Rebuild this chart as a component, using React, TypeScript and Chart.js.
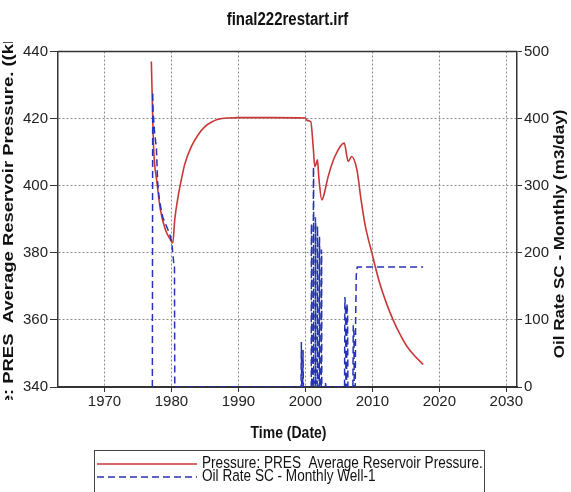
import React, { useEffect, useRef } from 'react';
import { Chart, registerables } from 'chart.js';

Chart.register(...registerables);

const TITLE = 'final222restart.irf';
const X_TITLE = 'Time (Date)';
const Y_LEFT_TITLE = 'Pressure: PRES  Average Reservoir Pressure. ((kPa)';
const Y_RIGHT_TITLE = 'Oil Rate SC - Monthly (m3/day)';
const PRESSURE_LABEL = 'Pressure: PRES  Average Reservoir Pressure.';
const OIL_LABEL = 'Oil Rate SC - Monthly Well-1';

const xTicks = [1970, 1980, 1990, 2000, 2010, 2020, 2030];
const leftTicks = [340, 360, 380, 400, 420, 440];
const rightTicks = [0, 100, 200, 300, 400, 500];

const pressureYears = [
  1977.0, 1977.2, 1977.35, 1977.85, 1978.35, 1979.1, 1979.85, 1980.2, 1980.5, 1981.0,
  1981.5, 1982.0, 1983.0, 1984.0, 1985.0, 1986.0, 1987.0, 1988.5, 1990.0, 1995.0,
  2000.0, 2000.3, 2000.8, 2001.2, 2001.4, 2001.6, 2001.8, 2002.0, 2002.45, 2002.7,
  2003.4, 2004.4, 2005.8, 2006.4, 2006.9, 2007.7, 2008.3, 2008.9, 2009.9, 2011.0,
  2012.1, 2013.1, 2014.1, 2015.1, 2016.3, 2017.6,
];
const pressureValues = [
  437, 420.6, 410.7, 400.8, 392.8, 386.9, 383.9, 382.9, 390.0, 396.8,
  402.0, 406.5, 411.8, 415.2, 417.6, 419.0, 419.8, 420.2, 420.3, 420.3,
  420.2, 419.4, 419.1, 410.7, 405.7, 406.5, 407.7, 402.7, 395.8, 396.8,
  402.7, 408.7, 412.7, 407.2, 408.7, 404.7, 396.0, 388.5, 380.2, 371.6,
  365.0, 360.0, 355.8, 352.3, 349.3, 346.7,
];

const oilYears = [
  1977.15, 1977.2, 1977.25, 1977.5, 1977.75, 1977.95, 1978.2, 1978.7, 1979.2, 1979.7,
  1980.05, 1980.2, 1980.35, 1980.45, 1980.5, 1999.35, 1999.4, 1999.45, 1999.6, 1999.65,
  1999.7, 2000.88, 2000.9, 2000.93, 2000.95, 2001.17, 2001.2, 2001.23, 2001.25, 2001.47,
  2001.5, 2001.53, 2001.55, 2001.77, 2001.8, 2001.83, 2001.85, 2002.07, 2002.1, 2002.13,
  2002.15, 2002.37, 2002.4, 2002.43, 2002.45, 2003.0, 2003.02, 2003.05, 2005.85, 2005.9,
  2006.0, 2006.05, 2006.15, 2006.2, 2006.3, 2006.35, 2007.1, 2007.15, 2007.25, 2007.3,
  2007.45, 2007.5, 2007.6, 2007.75, 2017.58,
];
const oilValues = [
  0, 440, 412, 377, 357, 303, 278, 253, 241, 229,
  216, 199, 184, 184, 0, 0, 67, 0, 0, 55,
  0, 0, 243, 235, 0, 0, 328, 320, 0, 0,
  253, 245, 0, 0, 240, 224, 0, 0, 224, 214,
  0, 0, 205, 200, 0, 0, 8, 0, 0, 134,
  120, 0, 0, 124, 110, 0, 0, 92, 80, 0,
  0, 95, 167, 179, 179,
];

const X_MIN = 1963.06;
const X_MAX = 2031.6;

function stretchedText(
  ctx: CanvasRenderingContext2D,
  text: string,
  x: number,
  y: number,
  font: string,
  stretch: number,
  rotate: boolean,
  align: CanvasTextAlign = 'center'
) {
  ctx.save();
  ctx.translate(x, y);
  if (rotate) {
    ctx.rotate(-Math.PI / 2);
    ctx.scale(stretch, 1);
  } else {
    ctx.scale(1, stretch);
  }
  ctx.font = font;
  ctx.textAlign = align;
  ctx.textBaseline = 'middle';
  ctx.fillStyle = '#111';
  ctx.fillText(text, 0, 0);
  ctx.restore();
}

const decorPlugin = {
  id: 'decor',
  afterDraw(chart: any) {
    const ctx: CanvasRenderingContext2D = chart.ctx;
    const a = chart.chartArea;
    ctx.save();
    ctx.strokeStyle = '#333';
    ctx.lineWidth = 1.5;
    ctx.beginPath();
    ctx.moveTo(a.left, a.top);
    ctx.lineTo(a.right, a.top);
    ctx.stroke();
    ctx.restore();

    const fam = "'Liberation Sans', Arial, sans-serif";
    stretchedText(ctx, TITLE, (a.left + a.right) / 2, 20, `bold 15px ${fam}`, 1.25, false);
    stretchedText(ctx, X_TITLE, (a.left + a.right) / 2 + 1, 433, `bold 14px ${fam}`, 1.22, false);
    stretchedText(ctx, Y_RIGHT_TITLE, 560, 234, `bold 14px ${fam}`, 1.22, true);

    // left title, clipped to the visible band
    ctx.save();
    ctx.beginPath();
    ctx.rect(0, 42, 50, 358);
    ctx.clip();
    const lf = `bold 15px ${fam}`;
    const ls = 1.23;
    ctx.font = lf;
    const prefix = 'Pressure: PRES  Average Reservoir Pressure. ((k';
    const w = ctx.measureText(prefix).width * ls;
    stretchedText(ctx, Y_LEFT_TITLE, 8.5, 44 + w, lf, ls, true, 'left');
    ctx.restore();

    // legend box
    ctx.save();
    ctx.strokeStyle = '#444';
    ctx.lineWidth = 1;
    ctx.strokeRect(94.5, 450.5, 390, 60);
    ctx.lineWidth = 1.6;
    ctx.strokeStyle = '#c83737';
    ctx.beginPath();
    ctx.moveTo(97, 464);
    ctx.lineTo(197, 464);
    ctx.stroke();
    ctx.strokeStyle = '#2832b4';
    ctx.setLineDash([7, 4]);
    ctx.beginPath();
    ctx.moveTo(97, 477);
    ctx.lineTo(197, 477);
    ctx.stroke();
    ctx.restore();
    stretchedText(ctx, PRESSURE_LABEL, 202, 463.5, `13.6px ${fam}`, 1.15, false, 'left');
    stretchedText(ctx, OIL_LABEL, 202, 477, `13.6px ${fam}`, 1.15, false, 'left');
  },
};

export default function App() {
  const ref = useRef<HTMLCanvasElement | null>(null);

  useEffect(() => {
    if (!ref.current) return;
    const tickFont = { family: "'Liberation Sans', Arial, sans-serif", size: 15 };
    const pressureData = pressureYears.map((x, i) => ({ x, y: pressureValues[i] }));
    const oilData = oilYears.map((x, i) => ({ x, y: oilValues[i] }));

    const chart = new Chart(ref.current, {
      type: 'line',
      data: {
        datasets: [
          {
            label: OIL_LABEL,
            data: oilData,
            yAxisID: 'y1',
            borderColor: '#2832b4',
            borderWidth: 1.5,
            borderDash: [7, 4],
            pointRadius: 0,
            tension: 0,
            fill: false,
            order: 0,
          },
          {
            label: PRESSURE_LABEL,
            data: pressureData,
            yAxisID: 'y',
            borderColor: '#c83737',
            borderWidth: 1.6,
            pointRadius: 0,
            cubicInterpolationMode: 'monotone',
            fill: false,
            order: 1,
          },
        ],
      },
      options: {
        animation: false,
        responsive: false,
        events: [],
        layout: { padding: { top: 51.5, left: 0, right: 0, bottom: 0 } },
        plugins: { legend: { display: false }, title: { display: false }, tooltip: { enabled: false } },
        scales: {
          x: {
            type: 'linear',
            min: X_MIN,
            max: X_MAX,
            afterBuildTicks: (s: any) => {
              s.ticks = xTicks.map((v) => ({ value: v }));
            },
            afterFit: (s: any) => {
              s.height = 105;
            },
            ticks: {
              font: tickFont,
              color: '#222',
              padding: 1,
              maxRotation: 0,
              autoSkip: false,
              callback: (v: any) => String(v),
            },
            grid: { color: '#8a8a8a', tickColor: '#333', tickLength: 5, lineWidth: 1 },
            border: { display: true, color: '#333', width: 2, dash: [2, 2] },
          },
          y: {
            type: 'linear',
            position: 'left',
            min: 340,
            max: 440,
            afterBuildTicks: (s: any) => {
              s.ticks = leftTicks.map((v) => ({ value: v }));
            },
            afterFit: (s: any) => {
              s.width = 58;
            },
            ticks: { font: tickFont, color: '#222', padding: 2 },
            grid: {
              color: (c: any) =>
                c.tick && (c.tick.value === 340 || c.tick.value === 440) ? 'rgba(0,0,0,0)' : '#8a8a8a',
              tickColor: '#333',
              tickLength: 8,
              lineWidth: 1,
            },
            border: { display: true, color: '#333', width: 1.5, dash: [2, 2] },
          },
          y1: {
            type: 'linear',
            position: 'right',
            min: 0,
            max: 500,
            afterBuildTicks: (s: any) => {
              s.ticks = rightTicks.map((v) => ({ value: v }));
            },
            afterFit: (s: any) => {
              s.width = 54;
            },
            ticks: { font: tickFont, color: '#222', padding: 2 },
            grid: { drawOnChartArea: false, tickColor: '#333', tickLength: 5 },
            border: { display: true, color: '#333', width: 1.5 },
          },
        },
      },
      plugins: [decorPlugin],
    } as any);

    return () => chart.destroy();
  }, []);

  return (
    <div style={{ position: 'absolute', left: 0, top: 0, width: 571, height: 492, background: '#fff' }}>
      <canvas ref={ref} width={571} height={492} style={{ display: 'block' }} />
    </div>
  );
}
